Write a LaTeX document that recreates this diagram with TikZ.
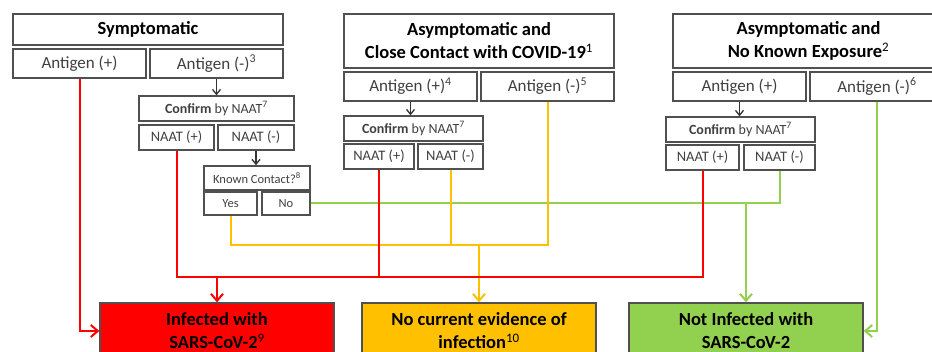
\documentclass[tikz,border=0pt]{standalone}
\usepackage{fontspec}
\setmainfont{Carlito}
\usetikzlibrary{arrows.meta}
\definecolor{infred}{RGB}{255,0,0}
\definecolor{nocuryel}{RGB}{255,192,0}
\definecolor{notgreen}{RGB}{146,208,80}
\definecolor{boxgray}{RGB}{80,80,80}
\definecolor{txtgray}{RGB}{64,64,64}
\begin{document}
\begin{tikzpicture}[x=1pt,y=-1pt,
		header/.style={draw=boxgray,line width=1.8pt,fill=white,inner sep=0pt,minimum width=270pt,font=\fontsize{18.5}{23}\selectfont\bfseries,align=center},
		antigen/.style={draw=boxgray,line width=1.3pt,fill=white,inner sep=0pt,minimum width=133pt,minimum height=29pt,text=txtgray,font=\fontsize{17}{19}\selectfont},
		small/.style={draw=boxgray,line width=1.3pt,fill=white,inner sep=0pt,minimum height=25pt,text=txtgray,font=\fontsize{14.5}{16}\selectfont},
		tiny/.style={draw=boxgray,line width=1.3pt,fill=white,inner sep=0pt,minimum height=23pt,text=txtgray,font=\fontsize{12.5}{14}\selectfont},
		outcome/.style={draw=boxgray,line width=1.3pt,inner sep=0pt,minimum width=234pt,minimum height=56pt,font=\fontsize{18.5}{23}\selectfont\bfseries,align=center},
		redline/.style={infred,line width=2pt},
		yelline/.style={nocuryel,line width=2pt},
		grnline/.style={notgreen,line width=2pt},
		bigtip/.style={-{Straight Barb[length=7pt,width=12pt]}},
		blacktip/.style={-{Straight Barb[length=5pt,width=8pt]},line width=1.3pt,black!80}]
			\useasboundingbox (0,0) rectangle (932,352);
			\clip (0,0) rectangle (932,352);
			\node[header,minimum height=31pt] (symp) at (148,29.5) {Symptomatic};
			\node[antigen] (sAgP) at (79.5,63.5) {Antigen (+)};
			\node[antigen] (sAgN) at (216.5,63.5) {Antigen (-)\textsuperscript{3}};
			\node[small,minimum width=155pt,font=\fontsize{14}{15}\selectfont] (sConf) at (216.5,108.5) {\textbf{Confirm} by NAAT\textsuperscript{7}};
			\node[small,minimum width=75pt] (sNp) at (176.5,137.5) {NAAT (+)};
			\node[small,minimum width=76pt] (sNn) at (256,137.5) {NAAT (-)};
			\node[tiny,minimum width=106pt,minimum height=24pt] (known) at (257,178) {Known Contact?\textsuperscript{8}};
			\node[tiny,minimum width=53pt] (yes) at (230.5,203.5) {Yes};
			\node[tiny,minimum width=48pt] (no) at (286,203.5) {No};
			\node[header,minimum height=54pt] (close) at (479,41) {Asymptomatic and\\Close Contact with COVID-19\textsuperscript{\mdseries 1}};
			\node[antigen] (mAgP) at (410.5,86.5) {Antigen (+)\textsuperscript{4}};
			\node[antigen] (mAgN) at (547.5,86.5) {Antigen (-)\textsuperscript{5}};
			\node[small,minimum width=139pt,font=\fontsize{14}{15}\selectfont] (mConf) at (413.5,128.5) {\textbf{Confirm} by NAAT\textsuperscript{7}};
			\node[small,minimum width=70pt] (mNp) at (379,156.5) {NAAT (+)};
			\node[small,minimum width=65pt] (mNn) at (450.5,156.5) {NAAT (-)};
			\node[header,minimum height=54pt,minimum width=271pt] (noexp) at (808.5,41) {Asymptomatic and\\No Known Exposure\textsuperscript{\mdseries 2}};
			\node[antigen] (rAgP) at (739.5,86.5) {Antigen (+)};
			\node[antigen,minimum width=134pt] (rAgN) at (877,86.5) {Antigen (-)\textsuperscript{6}};
			\node[small,minimum width=149pt,font=\fontsize{14}{15}\selectfont] (rConf) at (740.5,129.5) {\textbf{Confirm} by NAAT\textsuperscript{7}};
			\node[small,minimum width=73pt] (rNp) at (702.5,157.5) {NAAT (+)};
			\node[small,minimum width=71pt] (rNn) at (779.5,157.5) {NAAT (-)};
			\node[outcome,fill=infred] (infected) at (217,331) {Infected with\\SARS-CoV-2\textsuperscript{\mdseries 9}};
			\node[outcome,fill=nocuryel] (nocur) at (479,331) {No current evidence of\\infection\textsuperscript{\mdseries 10}};
			\node[outcome,fill=notgreen] (notinf) at (746,331) {Not Infected with\\SARS-CoV-2};
			\coordinate (redbus) at (217,277);
			\coordinate (yelbus) at (479,245);
			\coordinate (grnbus) at (746,203);
			\draw[blacktip] (sAgN.south) -- (sConf.north);
			\draw[blacktip] (sNn.south) -- (sNn.south |- known.north);
			\draw[blacktip] (mAgP.south) -- (mAgP.south |- mConf.north);
			\draw[blacktip] (rAgP.south) -- (rAgP.south |- rConf.north);
			\draw[grnline] (no.east) -| (rNn.south);
			\draw[grnline,bigtip] (grnbus) -- (notinf.north);
			\draw[grnline,bigtip] (rAgN.south) |- (notinf.east);
			\draw[yelline] (yes.south) |- (yelbus) -| (mAgN.south);
			\draw[yelline] (mNn.south) -- (mNn.south |- yelbus);
			\draw[yelline,bigtip] (yelbus) -- (nocur.north);
			\draw[redline,bigtip] (sAgP.south) |- (infected.west);
			\draw[redline] (sNp.south) |- (redbus) -| (rNp.south);
			\draw[redline] (mNp.south) -- (mNp.south |- redbus);
			\draw[redline,bigtip] (redbus) -- (infected.north);
		\end{tikzpicture}
\end{document}
